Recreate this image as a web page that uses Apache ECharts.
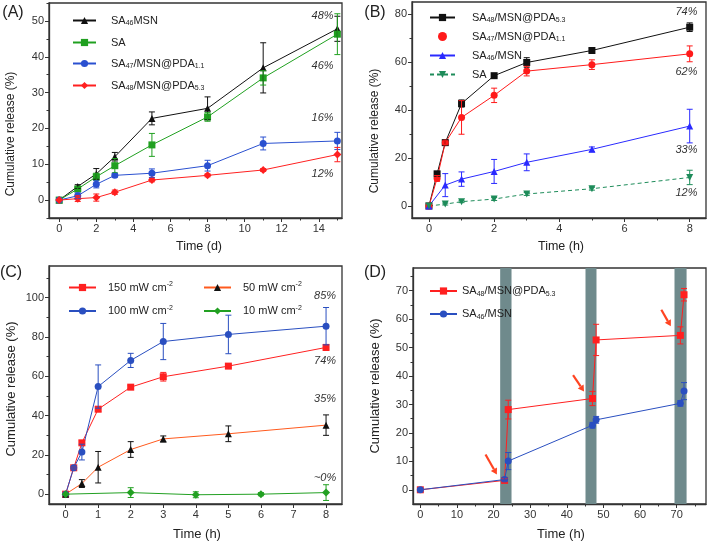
<!DOCTYPE html>
<html><head><meta charset="utf-8">
<script src="https://cdn.jsdelivr.net/npm/echarts@6/dist/echarts.min.js"></script>
<style>html,body{margin:0;padding:0;background:#fff}#c{width:708px;height:542px}</style>
</head><body><div id="c"></div>
<script>
// ---------- DATA ----------
// Panel A (Time, d)
const aX = [0, 1, 2, 3, 5, 8, 11, 15];
const aMSN = [0, 3.8, 7.3, 12.1, 22.8, 25.6, 36.9, 47.8];
const aMSNErr = [0, 0.5, 1.5, 1.2, 1.8, 3.2, 7.0, 3.5];
const aSA = [0, 3.1, 6.5, 9.6, 15.4, 23.2, 34.1, 46.3];
const aSAErr = [0, 0.5, 1.0, 2.0, 3.2, 1.2, 2.0, 5.7];
const aPDA11 = [0, 1.2, 4.4, 6.9, 7.5, 9.6, 15.8, 16.5];
const aPDA11Err = [0, 0.8, 1.0, 0.5, 1.2, 1.5, 1.8, 2.4];
const aPDA53 = [0, 0.4, 0.7, 2.2, 5.6, 6.9, 8.4, 12.7];
const aPDA53Err = [0, 0.8, 1.0, 0.6, 0.5, 0.4, 0.4, 2.0];
const aNotes = ['48%', '46%', '16%', '12%'];
const aNoteX = [14.2, 14.2, 14.2, 14.2];
const aNoteY = [51.4, 37.4, 22.9, 7.3];

// Panel B (Time, h)
const bX = [0, 0.25, 0.5, 1, 2, 3, 5, 8];
const bPDA53 = [0, 13.4, 26.4, 42.7, 54.3, 59.8, 64.8, 74.5];
const bPDA53Err = [0, 1.0, 1.0, 1.5, 0.5, 2.0, 0.8, 1.8];
const bPDA11 = [0, 11.5, 26.4, 36.9, 46.1, 56.2, 58.9, 63.4];
const bPDA11Err = [0, 1.2, 0.8, 7.0, 3.0, 2.0, 2.0, 3.3];
const bX2 = [0, 0.5, 1, 2, 3, 5, 8];
const bMSN = [0, 8.7, 11.2, 14.4, 18.2, 23.6, 33.3];
const bMSNErr = [0, 4.8, 3.0, 5.0, 3.5, 1.0, 7.0];
const bSA = [0, 0.8, 1.8, 2.9, 5.0, 7.2, 11.9];
const bSAErr = [0, 0.4, 0.4, 0.6, 0.6, 0.6, 3.0];
const bNotes = ['74%', '62%', '33%', '12%'];
const bNoteX = [7.9, 7.9, 7.9, 7.9];
const bNoteY = [80.7, 56.0, 23.3, 5.4];

// Panel C (Time, h)
const cX = [0, 0.25, 0.5, 1, 2, 3, 5, 8];
const c150 = [0, 13.4, 26.1, 43.2, 54.4, 59.7, 65.1, 74.6];
const c150Err = [0, 0.5, 1.0, 1.2, 0.8, 2.2, 0.8, 1.5];
const c100 = [0, 13.4, 21.4, 54.7, 68.0, 77.6, 81.2, 85.4];
const c100Err = [0, 0.5, 4.0, 11.0, 3.6, 9.2, 9.8, 9.5];
const cX50 = [0, 0.5, 1, 2, 3, 5, 8];
const c50 = [0, 5.4, 13.7, 22.7, 28.1, 30.7, 35.1];
const c50Err = [0, 2.0, 8.0, 4.0, 1.5, 4.0, 5.2];
const cX10 = [0, 2, 4, 6, 8];
const c10 = [0, 0.8, -0.3, 0, 0.8];
const c10Err = [0, 2.5, 1.5, 0.8, 4.0];
const cNotes = ['85%', '74%', '35%', '~0%'];
const cNoteX = [7.97, 7.97, 7.97, 7.97];
const cNoteY = [100.8, 67.7, 48.4, 8.2];

// Panel D (Time, h)
const dX = [0, 23, 24, 47, 48, 71, 72];
const dPDA = [0, 3.3, 28.2, 32.1, 52.7, 54.3, 68.6];
const dPDAErr = [0, 0.6, 3.3, 2.5, 5.5, 3.0, 2.2];
const dMSN = [0, 3.6, 10.1, 22.7, 24.6, 30.4, 34.7];
const dMSNErr = [0, 0.6, 3.0, 1.0, 1.2, 1.0, 3.0];
const dIrradStart = [21.8, 45.1, 69.4];
const dIrradEnd = [24.9, 48.1, 72.7];
const dArrowFrom = [[17.8, 12.4], [41.7, 40.3], [65.8, 63.3]];
const dArrowTo = [[20.9, 5.4], [44.7, 34.6], [68.4, 57.5]];

// tick labels
const aXTicks = [0, 2, 4, 6, 8, 10, 12, 14];
const aXMinor = [1, 3, 5, 7, 9, 11, 13, 15];
const aYTicks = [0, 10, 20, 30, 40, 50];
const aYMinor = [-5, 5, 15, 25, 35, 45, 55];
const bXTicks = [0, 2, 4, 6, 8];
const bXMinor = [1, 3, 5, 7];
const bYTicks = [0, 20, 40, 60, 80];
const bYMinor = [10, 30, 50, 70];
const cXTicks = [0, 1, 2, 3, 4, 5, 6, 7, 8];
const cYTicks = [0, 20, 40, 60, 80, 100];
const cYMinor = [10, 30, 50, 70, 90, 110];
const dXTicks = [0, 10, 20, 30, 40, 50, 60, 70];
const dXMinor = [5, 15, 25, 35, 45, 55, 65, 75];
const dYTicks = [0, 10, 20, 30, 40, 50, 60, 70];
const dYMinor = [5, 15, 25, 35, 45, 55, 65, 75];

// ---------- CHART ----------
const FF = "'Liberation Sans', Arial, sans-serif";
const AX = '#333';
const chart = echarts.init(document.getElementById('c'), null, {renderer: 'canvas'});

const grids = [
  {left: 49, top: 3, width: 293, height: 215},
  {left: 412, top: 2, width: 294, height: 216},
  {left: 49, top: 266, width: 293, height: 238},
  {left: 413, top: 268, width: 293, height: 236}
].map(g => Object.assign({show: true, borderColor: AX, borderWidth: 1.3, backgroundColor: 'transparent', containLabel: false}, g));

function axisPair(dir, gi, min, max, majors, minors) {
  const main = {
    type: 'value', gridIndex: gi, min, max, position: dir === 'x' ? 'bottom' : 'left',
    axisLine: {show: true, onZero: false, lineStyle: {color: AX, width: 1.3}},
    axisTick: {show: true, inside: false, length: 4, customValues: majors, lineStyle: {color: AX, width: 1}},
    axisLabel: {show: true, customValues: majors, margin: 5, color: '#333', fontSize: 11, fontFamily: FF},
    splitLine: {show: false}
  };
  const minor = {
    type: 'value', gridIndex: gi, min, max, position: dir === 'x' ? 'bottom' : 'left',
    axisLine: {show: false, onZero: false},
    axisTick: {show: minors.length > 0, inside: false, length: 2.5, customValues: minors.length ? minors : [min], lineStyle: {color: AX, width: 1}},
    axisLabel: {show: false},
    splitLine: {show: false}
  };
  return [main, minor];
}

const xAxis = [
  ...axisPair('x', 0, -0.55, 15.25, aXTicks, aXMinor),
  ...axisPair('x', 1, -0.52, 8.5, bXTicks, bXMinor),
  ...axisPair('x', 2, -0.51, 8.49, cXTicks, []),
  ...axisPair('x', 3, -2, 78, dXTicks, dXMinor)
];
const yAxis = [
  ...axisPair('y', 0, -5, 55, aYTicks, aYMinor),
  ...axisPair('y', 1, -5, 85, bYTicks, bYMinor),
  ...axisPair('y', 2, -5, 116, cYTicks, cYMinor),
  ...axisPair('y', 3, -5, 78, dYTicks, dYMinor)
];

function pts(xs, ys) { return xs.map((x, i) => [x, ys[i]]); }
function lineS(name, gi, xs, ys, color, symbol, opts) {
  opts = opts || {};
  return {
    name, type: 'line', xAxisIndex: 2 * gi, yAxisIndex: 2 * gi, data: pts(xs, ys),
    symbol, symbolSize: opts.size || 7, symbolRotate: opts.rotate || 0,
    lineStyle: {color: opts.lineColor || color, width: 1, type: opts.dash ? [4, 3] : 'solid'},
    itemStyle: {color}, z: 3, animation: false, clip: false
  };
}
function errS(gi, xs, ys, es, color) {
  return {
    type: 'custom', xAxisIndex: 2 * gi, yAxisIndex: 2 * gi, z: 4, animation: false, silent: true,
    data: xs.map((x, i) => [x, ys[i], es[i]]), encode: {x: 0, y: 1},
    renderItem: function (params, api) {
      const x = api.value(0), y = api.value(1), e = api.value(2);
      if (!e) return null;
      const p1 = api.coord([x, y + e]), p2 = api.coord([x, y - e]);
      const w = 3, st = {stroke: color, lineWidth: 1};
      return {type: 'group', children: [
        {type: 'line', shape: {x1: p1[0], y1: p1[1], x2: p2[0], y2: p2[1]}, style: st},
        {type: 'line', shape: {x1: p1[0] - w, y1: p1[1], x2: p1[0] + w, y2: p1[1]}, style: st},
        {type: 'line', shape: {x1: p2[0] - w, y1: p2[1], x2: p2[0] + w, y2: p2[1]}, style: st}
      ]};
    }
  };
}
function noteS(gi, xs, ys, texts) {
  return {
    type: 'custom', xAxisIndex: 2 * gi, yAxisIndex: 2 * gi, z: 5, animation: false, silent: true,
    data: xs.map((x, i) => [x, ys[i]]), encode: {x: 0, y: 1},
    renderItem: function (params, api) {
      const p = api.coord([api.value(0), api.value(1)]);
      return {type: 'text', x: p[0], y: p[1], style: {text: texts[params.dataIndex], fill: '#333',
        font: 'italic 11px ' + FF, textAlign: 'center', textVerticalAlign: 'middle'}};
    }
  };
}

const TRI_DOWN = 'triangle';
const series = [
  // A
  lineS('A:msn', 0, aX, aMSN, '#111', 'triangle'),
  lineS('A:sa', 0, aX, aSA, '#20a020', 'rect'),
  lineS('A:pda11', 0, aX, aPDA11, '#2a50d0', 'circle'),
  lineS('A:pda53', 0, aX, aPDA53, '#ff2020', 'diamond', {size: 8}),
  errS(0, aX, aMSN, aMSNErr, '#111'),
  errS(0, aX, aSA, aSAErr, '#20a020'),
  errS(0, aX, aPDA11, aPDA11Err, '#2a50d0'),
  errS(0, aX, aPDA53, aPDA53Err, '#ff2020'),
  noteS(0, aNoteX, aNoteY, aNotes),
  // B
  lineS('B:pda53', 1, bX, bPDA53, '#111', 'rect'),
  lineS('B:pda11', 1, bX, bPDA11, '#ff1a1a', 'circle'),
  lineS('B:msn', 1, bX2, bMSN, '#2a2aff', 'triangle'),
  lineS('B:sa', 1, bX2, bSA, '#1e8c5a', TRI_DOWN, {rotate: 180, dash: true}),
  errS(1, bX, bPDA53, bPDA53Err, '#111'),
  errS(1, bX, bPDA11, bPDA11Err, '#ff1a1a'),
  errS(1, bX2, bMSN, bMSNErr, '#2a2aff'),
  errS(1, bX2, bSA, bSAErr, '#1e8c5a'),
  noteS(1, bNoteX, bNoteY, bNotes),
  // C
  lineS('C:150', 2, cX, c150, '#ff2020', 'rect'),
  lineS('C:100', 2, cX, c100, '#2a4fc0', 'circle'),
  lineS('C:50', 2, cX50, c50, '#111', 'triangle', {lineColor: '#ff5a1e'}),
  lineS('C:10', 2, cX10, c10, '#22a022', 'diamond', {size: 8}),
  errS(2, cX, c150, c150Err, '#ff2020'),
  errS(2, cX, c100, c100Err, '#2a4fc0'),
  errS(2, cX50, c50, c50Err, '#111'),
  errS(2, cX10, c10, c10Err, '#22a022'),
  noteS(2, cNoteX, cNoteY, cNotes),
  // D irradiation bars
  {
    type: 'custom', xAxisIndex: 6, yAxisIndex: 6, z: 1, animation: false, silent: true,
    data: dIrradStart.map((s, i) => [s, dIrradEnd[i]]), encode: {x: [0, 1]},
    renderItem: function (params, api) {
      const cs = params.coordSys;
      const a = api.coord([api.value(0), 0]), b = api.coord([api.value(1), 0]);
      return {type: 'rect', shape: {x: a[0], y: cs.y, width: b[0] - a[0], height: cs.height},
        style: {fill: '#6f8a8c'}};
    }
  },
  lineS('D:pda', 3, dX, dPDA, '#ff2020', 'rect'),
  lineS('D:msn', 3, dX, dMSN, '#2a4fc0', 'circle'),
  errS(3, dX, dPDA, dPDAErr, '#ff2020'),
  errS(3, dX, dMSN, dMSNErr, '#2a4fc0'),
  // D arrows
  {
    type: 'custom', xAxisIndex: 6, yAxisIndex: 6, z: 6, animation: false, silent: true,
    data: dArrowFrom.map((f, i) => [f[0], f[1], dArrowTo[i][0], dArrowTo[i][1]]), encode: {x: [0, 2], y: [1, 3]},
    renderItem: function (params, api) {
      const p0 = api.coord([api.value(0), api.value(1)]), p1 = api.coord([api.value(2), api.value(3)]);
      const dx = p1[0] - p0[0], dy = p1[1] - p0[1], L = Math.sqrt(dx * dx + dy * dy);
      const ux = dx / L, uy = dy / L, hl = 6, hw = 3.5;
      const bx = p1[0] - ux * hl, by = p1[1] - uy * hl;
      return {type: 'group', children: [
        {type: 'line', shape: {x1: p0[0], y1: p0[1], x2: bx, y2: by}, style: {stroke: '#ff4422', lineWidth: 2.2}},
        {type: 'polygon', shape: {points: [[p1[0], p1[1]], [bx - uy * hw, by + ux * hw], [bx + uy * hw, by - ux * hw]]}, style: {fill: '#ff4422'}}
      ]};
    }
  }
];

const rich = {
  n: {fontSize: 11, fontFamily: FF, color: '#222', lineHeight: 14},
  s: {fontSize: 7, fontFamily: FF, color: '#222', padding: [6, 0, 0, 0]},
  p: {fontSize: 7, fontFamily: FF, color: '#222', padding: [0, 0, 6, 0]},
  g1: {width: 10}, g2: {width: 12}, g3: {width: 7}, g0: {width: 0}
};
const legendText = {
  'A:msn': '{n|SA}{s|46}{n|MSN}',
  'A:sa': '{n|SA}',
  'A:pda11': '{n|SA}{s|47}{n|/MSN@PDA}{s|1.1}',
  'A:pda53': '{n|SA}{s|48}{n|/MSN@PDA}{s|5.3}',
  'B:pda53': '{n|SA}{s|48}{n|/MSN@PDA}{s|5.3}',
  'B:pda11': '{n|SA}{s|47}{n|/MSN@PDA}{s|1.1}',
  'B:msn': '{n|SA}{s|46}{n|/MSN}',
  'B:sa': '{n|SA}',
  'C:150': '{n|150 mW cm}{p|-2}',
  'C:100': '{n|100 mW cm}{p|-2}',
  'C:50': '{n|50 mW cm}{p|-2}',
  'C:10': '{n|10 mW cm}{p|-2}',
  'D:pda': '{n|SA}{s|48}{n|/MSN@PDA}{s|5.3}',
  'D:msn': '{n|SA}{s|46}{n|/MSN}'
};
function mkLegend(names, left, top, w, gap, spacer) {
  return {
    orient: 'vertical', left, top, padding: 0, itemWidth: w, itemHeight: 9, itemGap: gap,
    data: names, selectedMode: false,
    formatter: n => '{' + spacer + '|}' + legendText[n],
    textStyle: {rich, fontSize: 11, fontFamily: FF, color: '#222'}
  };
}
const legend = [
  mkLegend(['A:msn', 'A:sa', 'A:pda11', 'A:pda53'], 72, 15, 23, 10, 'g1'),
  mkLegend(['B:pda53', {name: 'B:pda11', icon: 'circle'}, 'B:msn', 'B:sa'], 429, 12, 25, 7, 'g2'),
  mkLegend(['C:150', 'C:100'], 68, 281, 27, 11.5, 'g3'),
  mkLegend(['C:50', 'C:10'], 203, 281, 27, 11.5, 'g3'),
  mkLegend(['D:pda', 'D:msn'], 429, 285.5, 27, 11, 'g0')
];
// legend formatter receives plain name; objects in data need name lookup
legend.forEach(l => { const f = l.formatter; l.formatter = n => f(n); });

function txt(text, x, y, size, rot) {
  return {type: 'text', x, y, rotation: rot || 0, z: 10, silent: true,
    style: {text, font: size + 'px ' + FF, fill: '#222', textAlign: 'center', textVerticalAlign: 'middle'}};
}
const graphic = [
  txt('(A)', 13, 13, 16), txt('(B)', 375, 13, 16), txt('(C)', 11, 273, 16), txt('(D)', 375, 273, 16),
  txt('Cumulative release (%)', 11, 134, 12, Math.PI / 2),
  txt('Cumulative release (%)', 375, 131, 12, Math.PI / 2),
  txt('Cumulative release (%)', 11, 389, 13, Math.PI / 2),
  txt('Cumulative release (%)', 375, 386, 13, Math.PI / 2),
  txt('Time (d)', 199, 246.5, 12.5), txt('Time (h)', 561, 247, 12.5),
  txt('Time (h)', 197, 534, 13), txt('Time (h)', 561, 534, 13)
];

chart.setOption({animation: false, grid: grids, xAxis, yAxis, series, legend, graphic});
</script></body></html>
